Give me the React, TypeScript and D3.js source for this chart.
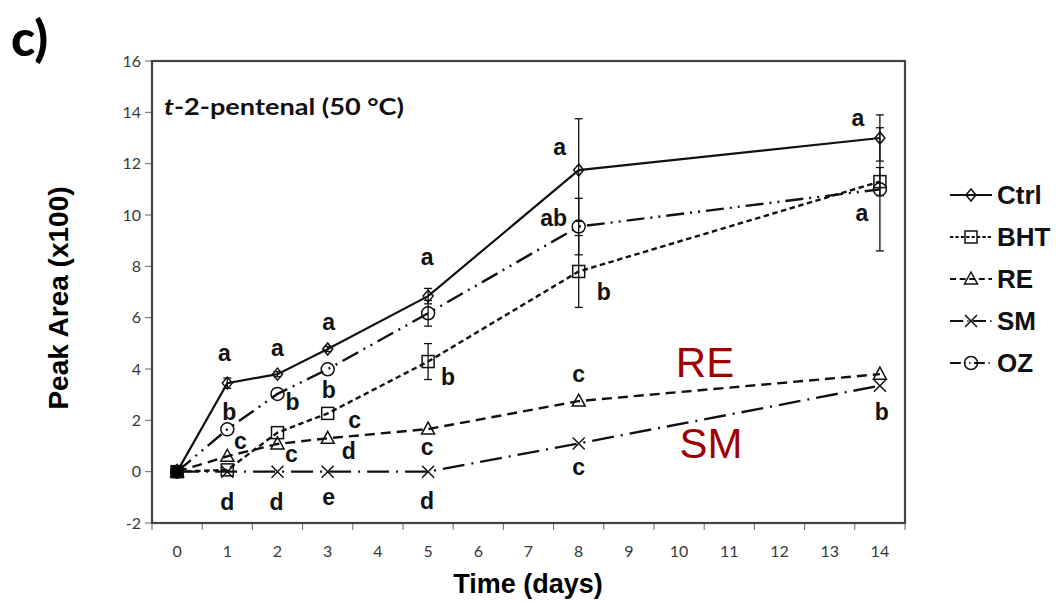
import { useEffect } from "react";
import * as d3 from "d3";

const days = [0, 1, 2, 3, 5, 8, 14];
const dayTicks = d3.range(0, 15);
const yTicks = d3.range(-2, 17, 2);

const seriesNames = ["Ctrl", "BHT", "RE", "SM", "OZ"];
const ctrl = [0, 3.45, 3.8, 4.78, 6.84, 11.75, 13.0];
const bht = [0, 0.07, 1.52, 2.27, 4.29, 7.8, 11.3];
const re = [0, 0.6, 1.08, 1.3, 1.66, 2.75, 3.8];
const sm = [0, 0, 0, 0, 0, 1.1, 3.35];
const oz = [0, 1.65, 3.03, 3.99, 6.17, 9.55, 11.0];

const ctrlErr = [0, 0.2, 0.1, 0.1, 0.3, 2.0, 0.9];
const bhtErr = [0, 0, 0, 0, 0.7, 1.4, 0.55];
const reErr = [0, 0, 0, 0, 0, 0, 0];
const smErr = [0, 0, 0, 0, 0, 0, 0];
const ozErr = [0, 0, 0, 0, 0.5, 1.1, 2.4];

// significance letters: [day, x offset in px, y in data units, text]
const letters: [number, number, number, string][] = [
  [1, -3, 4.59, "a"], [1, 2, 2.29, "b"], [1, 13, 1.16, "c"], [1, 0, -1.18, "d"],
  [2, 0, 4.82, "a"], [2, 15, 2.68, "b"], [2, 14, 0.69, "c"], [2, -1, -1.18, "d"],
  [3, 1, 5.83, "a"], [3, 1, 3.18, "b"], [3, 27, 1.98, "c"], [3, 21, 0.77, "d"], [3, 1, -1.02, "e"],
  [5, -1, 8.33, "a"], [5, 20, 3.69, "b"], [5, -1, 0.96, "c"], [5, -1, -1.14, "d"],
  [8, -19, 12.65, "a"], [8, -25, 9.88, "ab"], [8, 25, 7.0, "b"], [8, 0, 3.77, "c"], [8, 0, 0.18, "c"],
  [14, -22, 13.78, "a"], [14, -18, 10.07, "a"], [14, 2, 2.29, "b"],
];

const series = [
  { name: seriesNames[0], values: ctrl, err: ctrlErr, dash: "none", marker: "diamond" },
  { name: seriesNames[1], values: bht, err: bhtErr, dash: "5.5 3.5", marker: "square" },
  { name: seriesNames[2], values: re, err: reErr, dash: "10 6", marker: "triangle" },
  { name: seriesNames[3], values: sm, err: smErr, dash: "22 7 2 7", marker: "x" },
  { name: seriesNames[4], values: oz, err: ozErr, dash: "18 6 2 6 2 6", marker: "circle" },
];

const W = 1056;
const H = 602;
const x = d3.scaleBand<number>().domain(dayTicks).range([152, 905]);
const y = d3.scaleLinear().domain([-2, 16]).range([523, 61]);
const cx = (d: number) => (x(d) ?? 0) + x.bandwidth() / 2;

const sans = "'Liberation Sans', Arial, sans-serif";
const cal = "Lato, 'Open Sans', sans-serif";

function Marker({ kind, filled }: { kind: string; filled?: boolean }) {
  const fill = filled ? "#000" : "none";
  const p = { stroke: "#111", strokeWidth: 1.5, fill };
  if (kind === "diamond") return <path d="M0,-6 L5,0 L0,6 L-5,0 Z" {...p} />;
  if (kind === "square") return <rect x={-6} y={-6} width={12} height={12} {...p} />;
  if (kind === "triangle") return <path d="M0,-7 L6.5,5 L-6.5,5 Z" {...p} />;
  if (kind === "x") return <path d="M-6,-6 L6,6 M-6,6 L6,-6" {...p} fill="none" />;
  return <circle r={6.5} {...p} />;
}

export default function App() {
  useEffect(() => {
    document.body.style.margin = "0";
  }, []);

  const line = d3
    .line<number>()
    .x((_, i) => cx(days[i]))
    .y((v) => y(v));

  return (
    <svg width={W} height={H} style={{ display: "block", background: "#fff" }}>
      <text x={11} y={56} style={{ fontFamily: cal, fontWeight: 900, fontSize: 50 }} fill="#000">
        c)
      </text>

      {/* y ticks */}
      {yTicks.map((t) => (
        <g key={t}>
          <line x1={145} x2={152} y1={y(t)} y2={y(t)} stroke="#666" strokeWidth={1} />
          <text
            x={141}
            y={y(t)}
            dy="0.35em"
            textAnchor="end"
            style={{ fontFamily: cal, fontSize: 16 }}
            fill="#383838"
          >
            {t}
          </text>
        </g>
      ))}
      {/* x ticks */}
      {[...dayTicks, 15].map((t) => {
        const xx = t < 15 ? x(t) ?? 0 : 905;
        return <line key={t} x1={xx} x2={xx} y1={523} y2={530} stroke="#666" strokeWidth={1} />;
      })}
      {dayTicks.map((t) => (
        <text
          key={t}
          x={cx(t)}
          y={551}
          dy="0.35em"
          textAnchor="middle"
          style={{ fontFamily: cal, fontSize: 16 }}
          fill="#383838"
        >
          {t}
        </text>
      ))}

      <rect x={152} y={61} width={753} height={462} fill="none" stroke="#444" strokeWidth={2.2} />

      <text
        x={164}
        y={115}
        textLength={240}
        lengthAdjust="spacingAndGlyphs"
        style={{ fontFamily: cal, fontWeight: 700, fontSize: 23 }}
        fill="#111"
      >
        <tspan fontStyle="italic">t</tspan>-2-pentenal (50 °C)
      </text>

      <text
        transform="translate(58,298) rotate(-90)"
        dy="0.35em"
        textAnchor="middle"
        style={{ fontFamily: sans, fontWeight: 700, fontSize: 28 }}
        fill="#000"
      >
        Peak Area (x100)
      </text>
      <text
        x={528}
        y={593}
        textAnchor="middle"
        style={{ fontFamily: sans, fontWeight: 700, fontSize: 27 }}
        fill="#000"
      >
        Time (days)
      </text>

      {/* error bars */}
      {series.map((s) =>
        s.values.map((v, i) =>
          s.err[i] > 0 ? (
            <g key={s.name + i} stroke="#111" strokeWidth={1.3}>
              <line x1={cx(days[i])} x2={cx(days[i])} y1={y(v - s.err[i])} y2={y(v + s.err[i])} />
              <line x1={cx(days[i]) - 4} x2={cx(days[i]) + 4} y1={y(v - s.err[i])} y2={y(v - s.err[i])} />
              <line x1={cx(days[i]) - 4} x2={cx(days[i]) + 4} y1={y(v + s.err[i])} y2={y(v + s.err[i])} />
            </g>
          ) : null
        )
      )}

      {/* lines */}
      {series.map((s) => (
        <path
          key={s.name}
          d={line(s.values) ?? ""}
          fill="none"
          stroke="#111"
          strokeWidth={s.name === "Ctrl" ? 2.2 : 2.4}
          strokeDasharray={s.dash}
        />
      ))}

      {/* markers */}
      {series.map((s) =>
        s.values.map((v, i) => (
          <g key={s.name + "m" + i} transform={`translate(${cx(days[i])},${y(v)})`}>
            <Marker kind={s.marker} filled={i === 0} />
          </g>
        ))
      )}

      {/* letters */}
      {letters.map(([d, dx, v, t], i) => (
        <text
          key={i}
          x={cx(d) + dx}
          y={y(v)}
          dy="0.33em"
          textAnchor="middle"
          style={{ fontFamily: sans, fontWeight: 700, fontSize: 23 }}
          fill="#111"
        >
          {t}
        </text>
      ))}

      <text
        x={705}
        y={362}
        dy="0.35em"
        textAnchor="middle"
        style={{ fontFamily: sans, fontSize: 42 }}
        fill="#a00000"
      >
        RE
      </text>
      <text
        x={711}
        y={443}
        dy="0.35em"
        textAnchor="middle"
        style={{ fontFamily: sans, fontSize: 42 }}
        fill="#a00000"
      >
        SM
      </text>

      {/* legend */}
      {series.map((s, i) => {
        const ly = 195 + i * 42;
        return (
          <g key={s.name} transform={`translate(950,${ly})`}>
            <line
              x1={0}
              x2={42}
              y1={0}
              y2={0}
              stroke="#111"
              strokeWidth={2}
              strokeDasharray={s.dash === "none" ? "none" : s.dash.split(" ").map((n) => +n * 0.6).join(" ")}
            />
            <g transform="translate(21,0)">
              <Marker kind={s.marker} />
            </g>
            <text
              x={47}
              y={0}
              dy="0.35em"
              style={{ fontFamily: sans, fontWeight: 700, fontSize: 26 }}
              fill="#111"
            >
              {s.name}
            </text>
          </g>
        );
      })}
    </svg>
  );
}
